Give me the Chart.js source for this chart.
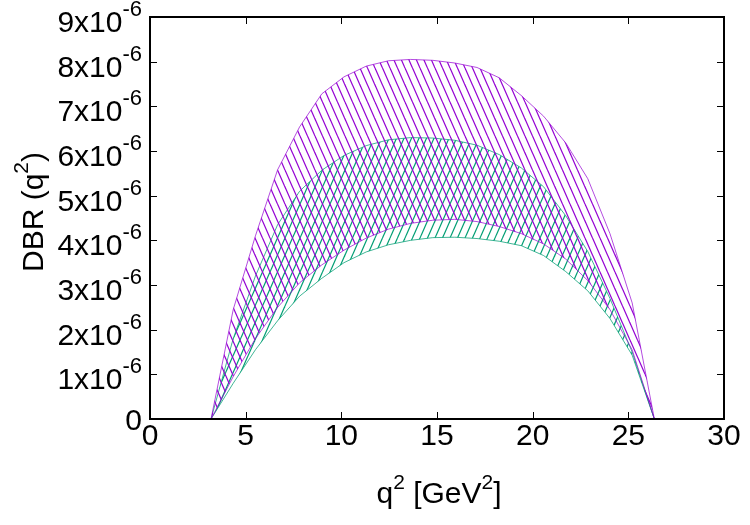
<!DOCTYPE html>
<html><head><meta charset="utf-8">
<script src="https://cdn.jsdelivr.net/npm/chart.js@4.4.0/dist/chart.umd.min.js"></script>
<style>html,body{margin:0;padding:0;background:#fff}#wrap{width:750px;height:525px;position:relative}</style>
</head><body><div id="wrap"><canvas id="c" width="750" height="525"></canvas></div>
<script>
// ---- data ----
const q2 = [3.19, 4.35, 5.51, 6.67, 7.82, 8.98, 10.14, 11.30, 12.46, 13.62, 14.78, 15.93, 17.09, 18.25, 19.41, 20.57, 21.73, 22.88, 24.04, 25.20, 26.36];
const purpleUpper = [0, 2.45e-6, 4.10e-6, 5.58e-6, 6.54e-6, 7.28e-6, 7.66e-6, 7.90e-6, 8.02e-6, 8.05e-6, 8.03e-6, 7.97e-6, 7.87e-6, 7.64e-6, 7.24e-6, 6.78e-6, 6.18e-6, 5.38e-6, 4.15e-6, 2.60e-6, 0];
const purpleLower = [0, 0.95e-6, 1.80e-6, 2.50e-6, 3.05e-6, 3.45e-6, 3.78e-6, 4.05e-6, 4.25e-6, 4.38e-6, 4.45e-6, 4.47e-6, 4.42e-6, 4.31e-6, 4.15e-6, 3.92e-6, 3.58e-6, 3.10e-6, 2.45e-6, 1.55e-6, 0];
const greenUpper = [0, 1.80e-6, 3.20e-6, 4.35e-6, 5.10e-6, 5.57e-6, 5.90e-6, 6.12e-6, 6.25e-6, 6.30e-6, 6.29e-6, 6.24e-6, 6.13e-6, 5.92e-6, 5.62e-6, 5.20e-6, 4.55e-6, 3.75e-6, 2.70e-6, 1.50e-6, 0];
const greenLower = [0, 0.80e-6, 1.55e-6, 2.20e-6, 2.75e-6, 3.15e-6, 3.50e-6, 3.74e-6, 3.90e-6, 4.00e-6, 4.06e-6, 4.07e-6, 4.04e-6, 3.98e-6, 3.88e-6, 3.66e-6, 3.30e-6, 2.87e-6, 2.25e-6, 1.43e-6, 0];
const xTickValues = [0, 5, 10, 15, 20, 25, 30];
const yTickValues = [0, 1e-6, 2e-6, 3e-6, 4e-6, 5e-6, 6e-6, 7e-6, 8e-6, 9e-6];
const yTickMain = ['0', '1x10', '2x10', '3x10', '4x10', '5x10', '6x10', '7x10', '8x10', '9x10'];
const yTickSup = ['', '-6', '-6', '-6', '-6', '-6', '-6', '-6', '-6', '-6'];
const xTitleParts = [['q', false], ['2', true], [' [GeV', false], ['2', true], [']', false]];
const yTitleParts = [['DBR (q', false], ['2', true], [')', false]];

const PURPLE = '#9400d3';
const GREEN = '#009e73';
const FONT = '"Liberation Sans", Arial, Helvetica, sans-serif';

function hatch(color, dir) {
  const w = 15, h = 34;
  const c = document.createElement('canvas');
  c.width = w; c.height = h;
  const g = c.getContext('2d');
  g.strokeStyle = color; g.lineWidth = 1.2;
  for (let k = -3; k <= 3; k++) {
    const x0 = k * 7.5;
    g.beginPath();
    if (dir > 0) { g.moveTo(x0, 0); g.lineTo(x0 + w, h); }
    else { g.moveTo(x0, h); g.lineTo(x0 + w, 0); }
    g.stroke();
  }
  return g.createPattern(c, 'repeat');
}

function pts(ys) { return q2.map((x, i) => ({ x: x, y: ys[i] })); }

function drawParts(ctx, parts, x0, y0, size, supSize, raise) {
  let total = 0;
  const widths = parts.map(([t, sup]) => {
    ctx.font = (sup ? supSize : size) + 'px ' + FONT;
    const w = ctx.measureText(t).width; total += w; return w;
  });
  let x = x0 - total / 2;
  parts.forEach(([t, sup], i) => {
    ctx.font = (sup ? supSize : size) + 'px ' + FONT;
    ctx.fillText(t, x, sup ? y0 - raise : y0);
    x += widths[i];
  });
}

const framePlugin = {
  id: 'frame',
  afterDraw(chart) {
    const ctx = chart.ctx, a = chart.chartArea;
    const xs = chart.scales.x, ys = chart.scales.y;
    ctx.save();
    ctx.strokeStyle = '#000'; ctx.lineWidth = 1;
    xTickValues.forEach(v => {
      const px = Math.round(xs.getPixelForValue(v)) + 0.5;
      ctx.beginPath();
      ctx.moveTo(px, a.bottom); ctx.lineTo(px, a.bottom - 7);
      ctx.moveTo(px, a.top); ctx.lineTo(px, a.top + 7);
      ctx.stroke();
    });
    yTickValues.forEach(v => {
      const py = Math.round(ys.getPixelForValue(v)) + 0.5;
      ctx.beginPath();
      ctx.moveTo(a.left, py); ctx.lineTo(a.left + 7, py);
      ctx.moveTo(a.right, py); ctx.lineTo(a.right - 7, py);
      ctx.stroke();
    });
    ctx.lineWidth = 2;
    ctx.strokeRect(a.left, a.top, a.right - a.left, a.bottom - a.top);
    ctx.fillStyle = '#000';
    ctx.textBaseline = 'alphabetic';
    ctx.textAlign = 'right';
    const rx = a.left - 8;
    yTickValues.forEach((v, i) => {
      const py = ys.getPixelForValue(v);
      if (!yTickSup[i]) {
        ctx.font = '30px ' + FONT;
        ctx.fillText(yTickMain[i], rx, py + 11);
      } else {
        ctx.font = '22px ' + FONT;
        const sw = ctx.measureText(yTickSup[i]).width;
        ctx.fillText(yTickSup[i], rx, py - 1);
        ctx.font = '30px ' + FONT;
        ctx.fillText(yTickMain[i], rx - sw, py + 15);
      }
    });
    ctx.textAlign = 'left';
    drawParts(ctx, xTitleParts, (a.left + a.right) / 2 + 2, 503, 30, 21, 14);
    ctx.translate(43, 212);
    ctx.rotate(-Math.PI / 2);
    drawParts(ctx, yTitleParts, 0, 0, 30, 21, 15);
    ctx.restore();
  }
};

const ctx = document.getElementById('c').getContext('2d');
new Chart(ctx, {
  type: 'line',
  data: {
    datasets: [
      { label: 'purple upper', data: pts(purpleUpper), borderColor: 'rgba(148,0,211,0.7)', borderWidth: 1, pointRadius: 0, fill: '+1', backgroundColor: hatch(PURPLE, 1), tension: 0 },
      { label: 'purple lower', data: pts(purpleLower), borderColor: 'rgba(148,0,211,0.7)', borderWidth: 1, pointRadius: 0, fill: false, tension: 0 },
      { label: 'green upper', data: pts(greenUpper), borderColor: 'rgba(0,158,115,0.75)', borderWidth: 1, pointRadius: 0, fill: '+1', backgroundColor: hatch(GREEN, -1), tension: 0 },
      { label: 'green lower', data: pts(greenLower), borderColor: 'rgba(0,158,115,0.75)', borderWidth: 1, pointRadius: 0, fill: false, tension: 0 }
    ]
  },
  options: {
    responsive: false,
    animation: false,
    layout: { padding: { left: 150, right: 26, top: 17, bottom: 0 } },
    plugins: { legend: { display: false }, tooltip: { enabled: false } },
    scales: {
      x: {
        type: 'linear', min: 0, max: 30,
        afterFit: s => { s.height = 106; },
        afterBuildTicks: s => { s.ticks = xTickValues.map(v => ({ value: v })); },
        grid: { display: false, drawTicks: false, tickLength: 0 },
        border: { display: false },
        ticks: { color: '#000', font: { family: FONT, size: 30 }, padding: 0, maxRotation: 0, autoSkip: false }
      },
      y: {
        type: 'linear', min: 0, max: 9e-6, display: false
      }
    }
  },
  plugins: [framePlugin]
});
</script>
</body></html>
